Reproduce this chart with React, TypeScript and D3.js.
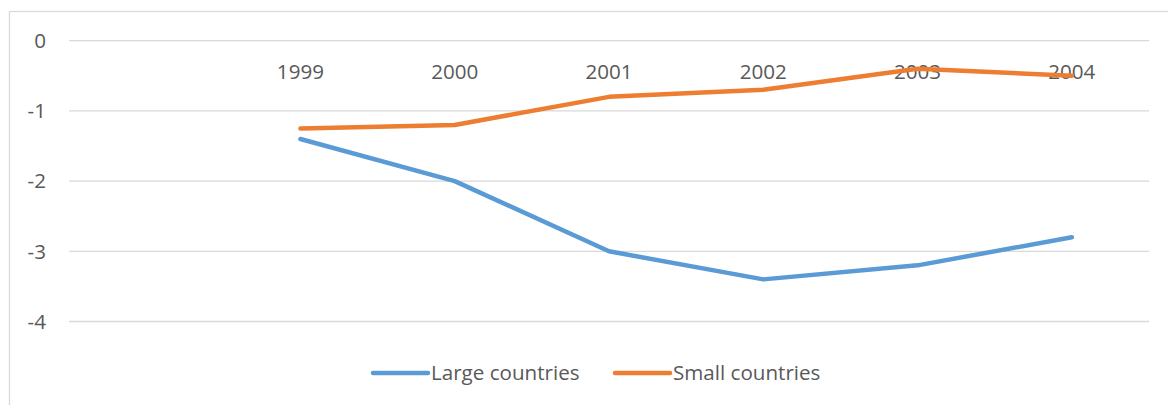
import * as d3 from 'd3';

const categories = ['', '1999', '2000', '2001', '2002', '2003', '2004'];
const largeCountries = [null, -1.4, -2.0, -3.0, -3.4, -3.2, -2.8];
const smallCountries = [null, -1.25, -1.2, -0.8, -0.7, -0.4, -0.5];
const yTicks = [0, -1, -2, -3, -4];

const W = 1168;
const H = 405;
const FONT = "'Open Sans', 'Liberation Sans', sans-serif";
const TEXT = '#595959';
const GRID = '#d9d9d9';
const FS = 20.6;

const series = [
  { name: 'Large countries', values: largeCountries, color: '#5b9bd5' },
  { name: 'Small countries', values: smallCountries, color: '#ed7d31' },
];

export default function App() {
  const x = d3.scaleBand<string>().domain(categories).range([69, 1149]);
  const y = d3.scaleLinear().domain([-4, 0]).range([321.5, 40.7]);
  const cx = (c: string) => (x(c) || 0) + x.bandwidth() / 2;

  const line = d3
    .line<[string, number | null]>()
    .defined((d) => d[1] !== null)
    .x((d) => cx(d[0]))
    .y((d) => y(d[1] as number));

  const legend = [
    { x1: 373, x2: 428 },
    { x1: 615, x2: 670 },
  ];

  return (
    <svg
      width={W}
      height={H}
      style={{ position: 'fixed', top: 0, left: 0, background: '#fff' }}
    >
      <rect x={9.5} y={11.5} width={W} height={H} fill="#fff" stroke={GRID} strokeWidth={1.3} />

      {/* grid lines + y labels */}
      {yTicks.map((t) => (
        <g key={t}>
          <line x1={69} x2={1149} y1={y(t)} y2={y(t)} stroke={GRID} strokeWidth={1.3} />
          <text
            x={46}
            y={y(t)}
            dy="0.35em"
            textAnchor="end"
            fill={TEXT}
            fontFamily={FONT}
            fontSize={FS}
          >
            {t}
          </text>
        </g>
      ))}

      {/* category labels sit just under the zero line */}
      {categories.map((c) => (
        <text
          key={c || 'blank'}
          x={cx(c)}
          y={72}
          dy="0.35em"
          textAnchor="middle"
          fill={TEXT}
          fontFamily={FONT}
          fontSize={FS}
        >
          {c}
        </text>
      ))}

      {series.map((s) => (
        <path
          key={s.name}
          d={line(categories.map((c, i) => [c, s.values[i]])) || ''}
          fill="none"
          stroke={s.color}
          strokeWidth={4.5}
          strokeLinecap="round"
          strokeLinejoin="round"
        />
      ))}

      {/* legend */}
      {series.map((s, i) => (
        <g key={s.name}>
          <line
            x1={legend[i].x1}
            x2={legend[i].x2}
            y1={373}
            y2={373}
            stroke={s.color}
            strokeWidth={4.5}
            strokeLinecap="round"
          />
          <text
            x={legend[i].x2 + 3}
            y={373}
            dy="0.35em"
            fill={TEXT}
            fontFamily={FONT}
            fontSize={FS}
          >
            {s.name}
          </text>
        </g>
      ))}
    </svg>
  );
}
